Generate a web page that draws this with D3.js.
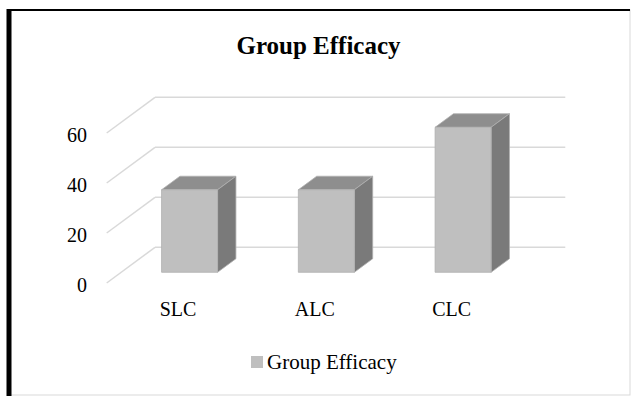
<!DOCTYPE html>
<html>
<head>
<meta charset="utf-8">
<script src="https://cdn.jsdelivr.net/npm/d3@7"></script>
<style>
  html, body { margin: 0; padding: 0; background: #fff; }
  svg { display: block; }
  text { font-family: "Liberation Serif", "Times New Roman", serif; fill: #000; }
</style>
</head>
<body>
<svg id="chart" width="631" height="396"></svg>
<script>
// Chart data
const title = "Group Efficacy";
const seriesName = "Group Efficacy";
const categories = ["SLC", "ALC", "CLC"];
const values = [33, 33, 58];
const yTicks = [0, 20, 40, 60];

const W = 631, H = 396;
const svg = d3.select("#chart");

// Frame of the chart area
svg.append("rect").attr("x", 9).attr("y", 10).attr("width", 621).attr("height", 385)
  .attr("fill", "#fff").attr("stroke", "#d9d9d9").attr("stroke-width", 1);
svg.append("line").attr("x1", 9).attr("x2", 630).attr("y1", 10).attr("y2", 10)
  .attr("stroke", "#000").attr("stroke-width", 2);
svg.append("line").attr("x1", 9).attr("x2", 9).attr("y1", 9).attr("y2", 396)
  .attr("stroke", "#000").attr("stroke-width", 5);

// Title
svg.append("text").attr("x", 318.5).attr("y", 54).attr("text-anchor", "middle")
  .attr("font-size", 25).attr("font-weight", "bold").text(title);

// 3D projection: front plane scales plus a depth vector toward the back wall
const x = d3.scaleBand().domain(categories).range([106.7, 517]);
const y = d3.scaleLinear().domain([0, 60]).range([283, 133]);
const depth = { dx: 48.3, dy: -35.7 };
const P = (px, py, t) => [px + depth.dx * t, py + depth.dy * t];

const grid = svg.append("g").attr("stroke", "#d9d9d9").attr("stroke-width", 1.5).attr("fill", "none");
yTicks.forEach(v => {
  const f = P(x.range()[0], y(v), 0);
  const b = P(x.range()[0], y(v), 1);
  const e = P(x.range()[1], y(v), 1);
  grid.append("line").attr("x1", f[0]).attr("y1", f[1]).attr("x2", b[0]).attr("y2", b[1]);
  grid.append("line").attr("x1", b[0]).attr("y1", b[1]).attr("x2", e[0]).attr("y2", e[1]);
});

// Bars as boxes
const t0 = 0.3, t1 = 0.68;
const barW = 56;
const line = d3.line();
const bars = svg.append("g");
categories.forEach((c, i) => {
  const xl = x(c) + (x.bandwidth() - barW) / 2;
  const xr = xl + barW;
  const yb = y(0), yt = y(values[i]);
  const g = bars.append("g").attr("stroke", "#b0b0b0").attr("stroke-width", 0.8).attr("stroke-linejoin", "round");
  // top face
  g.append("path").attr("fill", "#8e8e8e")
    .attr("d", line([P(xl, yt, t0), P(xr, yt, t0), P(xr, yt, t1), P(xl, yt, t1)]) + "Z");
  // right side face
  g.append("path").attr("fill", "#7a7a7a")
    .attr("d", line([P(xr, yt, t0), P(xr, yb, t0), P(xr, yb, t1), P(xr, yt, t1)]) + "Z");
  // front face
  g.append("path").attr("fill", "#bfbfbf")
    .attr("d", line([P(xl, yt, t0), P(xr, yt, t0), P(xr, yb, t0), P(xl, yb, t0)]) + "Z");
});

// Value axis labels
const yAxis = svg.append("g").attr("transform", "translate(87,2)")
  .call(d3.axisLeft(y).tickValues(yTicks).tickSize(0).tickPadding(0));
yAxis.select(".domain").remove();
yAxis.selectAll("text").attr("font-size", 20).attr("font-family", "Liberation Serif, serif").attr("fill", "#000");

// Category axis labels
const xAxis = svg.append("g").attr("transform", "translate(3,302)")
  .call(d3.axisBottom(x).tickSize(0).tickPadding(0));
xAxis.select(".domain").remove();
xAxis.selectAll("text").attr("font-size", 20).attr("font-family", "Liberation Serif, serif").attr("fill", "#000");

// Legend
const lg = svg.append("g").attr("transform", "translate(251,356)");
lg.append("rect").attr("width", 12).attr("height", 12).attr("fill", "#bfbfbf");
lg.append("text").attr("x", 16).attr("y", 13).attr("font-size", 21).text(seriesName);
</script>
</body>
</html>
